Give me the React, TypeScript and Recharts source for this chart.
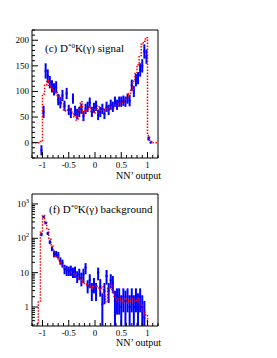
import React from "react";
import { ComposedChart, Line, Scatter, ErrorBar, XAxis, YAxis, ReferenceArea } from "recharts";

const SERIF = '"Liberation Serif", "Times New Roman", serif';

// bin centres of the NN' output histogram
const BIN_CENTERS = [
  -1.18, -1.14, -1.1, -1.06, -1.02, -0.98, -0.94, -0.9, -0.86, -0.82,
  -0.78, -0.74, -0.7, -0.66, -0.62, -0.58, -0.54, -0.5, -0.46, -0.42,
  -0.38, -0.34, -0.3, -0.26, -0.22, -0.18, -0.14, -0.1, -0.06, -0.02,
  0.02, 0.06, 0.1, 0.14, 0.18, 0.22, 0.26, 0.3, 0.34, 0.38,
  0.42, 0.46, 0.5, 0.54, 0.58, 0.62, 0.66, 0.7, 0.74, 0.78,
  0.82, 0.86, 0.9, 0.94, 0.98, 1.02, 1.06, 1.1, 1.14, 1.18,
];
const HALF_BIN = 0.02;
const DATA_START = 4; // data points start at bin -1.02

// (c) signal: MC (red) and data (blue)
const SIG_MC = [
  0, 0, 0, 0, 2, 95, 112, 122, 112, 106,
  100, 98, 92, 88, 76, 64, 62, 66, 60, 56,
  50, 44, 62, 80, 56, 62, 66, 70, 62, 58,
  66, 72, 60, 68, 62, 70, 62, 72, 68, 74,
  72, 78, 76, 80, 84, 88, 96, 104, 120, 135,
  152, 170, 192, 198, 205, 14, 2, 0, 0, 0,
];
const SIG_DATA = [
  -15, 60, 140, 130, 118, 110, 104, 108, 84, 78,
  92, 72, 96, 64, 58, 86, 62, 56, 60, 66,
  52, 66, 70, 78, 60, 68, 72, 54, 60, 66,
  56, 70, 64, 74, 70, 80, 74, 80, 80, 82,
  80, 86, 82, 112, 100, 122, 126, 142, 150, 178,
  168, 8, 0,
];
const SIG_ERR = [
  10, 12, 15, 13, 12, 12, 12, 12, 11, 11,
  11, 10, 11, 10, 10, 10, 10, 10, 10, 10,
  10, 10, 10, 10, 10, 10, 10, 10, 10, 10,
  10, 10, 10, 10, 10, 10, 10, 10, 10, 10,
  10, 10, 11, 11, 11, 12, 12, 13, 13, 14,
  14, 4, 1,
];

// (f) background: MC (red) and data (blue) with lower / upper error bounds
const BKG_MC = [
  0.1, 0.1, 0.1, 1.5, 150, 465, 310, 180, 100, 65,
  42, 30, 25, 20, 17, 14, 12, 11, 10, 9.5,
  8.5, 7.5, 6.5, 6, 5.2, 4.8, 4, 3.8, 3.5, 3.9,
  4.2, 3.6, 3.2, 3.9, 2.2, 1.4, 3.5, 4.3, 2.8, 1.9,
  1.6, 1.8, 1.5, 1.4, 1.7, 1.3, 1.6, 1.9, 1.4, 1.5,
  1.8, 1.3, 1.1, 0.7, 0.6, 0.1, 0.1, 0.1, 0.1, 0.1,
];
const BKG_DATA = [
  130, 420, 280, 140, 78, 50, 36, 35, 32, 22,
  19, 13, 12, 11, 12, 10, 11, 8, 9, 7,
  9, 14, 4, 6, 3, 4.5, 3, 10, 4, 1.2,
  3, 8, 3, 6, 5, 1.5, 2, 2, 1, 2,
  1.5, 2, 1, 2, 1, 2, 1.2, 2, 1, 0.5,
];
const BKG_LO = [
  115, 390, 255, 125, 68, 42, 28, 28, 26, 17,
  14, 9, 8, 8, 8, 7, 7, 5, 6, 4,
  5, 9, 2.5, 3.5, 1.5, 2.5, 1.5, 6, 2, 0.28,
  1.2, 4.5, 1.3, 3.5, 2.5, 0.28, 0.6, 0.6, 0.28, 0.7,
  0.28, 0.7, 0.28, 0.7, 0.28, 0.7, 0.28, 0.7, 0.28, 0.28,
];
const BKG_HI = [
  145, 450, 305, 155, 88, 58, 44, 43, 40, 28,
  24, 17, 16, 15, 16, 14, 15, 11, 13, 10,
  13, 19, 6, 9, 5, 7, 5, 14, 6.5, 2.5,
  5, 12, 5, 9, 8, 3, 3.5, 3.5, 2.2, 3.5,
  3, 3.5, 2.2, 3.5, 2.2, 3.5, 2.5, 3.5, 2.2, 1.5,
];

// axis ticks
const X_TICKS = [
  -1.2, -1.1, -1, -0.9, -0.8, -0.7, -0.6, -0.5, -0.4, -0.3, -0.2, -0.1, 0,
  0.1, 0.2, 0.3, 0.4, 0.5, 0.6, 0.7, 0.8, 0.9, 1, 1.1, 1.2,
];
const X_LABELS: Record<string, string> = { "-1": "-1", "-0.5": "-0.5", "0": "0", "0.5": "0.5", "1": "1" };
const SIG_Y_TICKS = [
  -30, -20, -10, 0, 10, 20, 30, 40, 50, 60, 70, 80, 90, 100, 110, 120,
  130, 140, 150, 160, 170, 180, 190, 200, 210, 220,
];
const SIG_Y_LABELS = [0, 50, 100, 150, 200];
const BKG_Y_TICKS = [
  0.3, 0.4, 0.5, 0.6, 0.7, 0.8, 0.9, 1, 2, 3, 4, 5, 6, 7, 8, 9, 10,
  20, 30, 40, 50, 60, 70, 80, 90, 100, 200, 300, 400, 500, 600, 700, 800, 900, 1000,
];
const BKG_Y_LABELS: Record<string, [string, string]> = {
  "1": ["1", ""], "10": ["10", ""], "100": ["10", "2"], "1000": ["10", "3"],
};

const stepData = (vals: number[]) => {
  const pts = vals.map((v, i) => ({ x: BIN_CENTERS[i] - HALF_BIN, y: v }));
  pts.push({ x: BIN_CENTERS[BIN_CENTERS.length - 1] + HALF_BIN, y: vals[vals.length - 1] });
  return pts;
};

const sigMC = stepData(SIG_MC);
const sigData = SIG_DATA.map((v, i) => ({ x: BIN_CENTERS[DATA_START + i], y: v, e: SIG_ERR[i] }));
const bkgMC = stepData(BKG_MC);
const bkgData = BKG_DATA.map((v, i) => ({
  x: BIN_CENTERS[DATA_START + i], y: v, e: [v - BKG_LO[i], BKG_HI[i] - v],
}));

const XTick = (props: any) => {
  const { x, y, payload } = props;
  const label = X_LABELS[String(payload.value)];
  return (
    <g>
      <line x1={x} x2={x} y1={y} y2={y - (label ? 6 : 3)} stroke="#000" strokeWidth={1} />
      {label && (
        <text x={x} y={y + 10} textAnchor="middle" fontSize={9} fontFamily={SERIF} fill="#000">{label}</text>
      )}
    </g>
  );
};

const SigYTick = (props: any) => {
  const { x, y, payload } = props;
  const major = SIG_Y_LABELS.includes(payload.value);
  return (
    <g>
      <line x1={x} x2={x + (major ? 6 : 3)} y1={y} y2={y} stroke="#000" strokeWidth={1} />
      {major && (
        <text x={x - 3} y={y + 3} textAnchor="end" fontSize={9} fontFamily={SERIF} fill="#000">{payload.value}</text>
      )}
    </g>
  );
};

const BkgYTick = (props: any) => {
  const { x, y, payload } = props;
  const lab = BKG_Y_LABELS[String(payload.value)];
  return (
    <g>
      <line x1={x} x2={x + (lab ? 6 : 3)} y1={y} y2={y} stroke="#000" strokeWidth={1} />
      {lab && (
        <text x={x - 3} y={y + 3} textAnchor="end" fontSize={9} fontFamily={SERIF} fill="#000">
          {lab[0]}
          {lab[1] && <tspan dy={-4} fontSize={6}>{lab[1]}</tspan>}
        </text>
      )}
    </g>
  );
};

const BlueDot = (props: any) => {
  const { cx, cy } = props;
  if (cx == null || cy == null || isNaN(cy)) return null;
  return <rect x={cx - 1} y={cy - 1} width={2} height={2} fill="#0000ff" />;
};

const textStyle = (top: number, left: number, size: number): React.CSSProperties => ({
  position: "absolute", top, left, fontFamily: SERIF, fontSize: size, whiteSpace: "nowrap", lineHeight: 1,
});

export default function App() {
  return (
    <div style={{ position: "absolute", left: 0, top: 0, width: 277, height: 358, background: "#fff" }}>
      <div style={{ position: "absolute", left: 0, top: 0 }}>
        <ComposedChart width={277} height={179} margin={{ top: 30, right: 119, left: 0, bottom: 0 }}>
          <XAxis type="number" dataKey="x" domain={[-1.2, 1.2]} ticks={X_TICKS} interval={0}
            allowDataOverflow height={21} tickSize={0} tickMargin={0} axisLine={false} tick={<XTick />} />
          <YAxis type="number" dataKey="y" domain={[-30, 220]} ticks={SIG_Y_TICKS} interval={0}
            allowDataOverflow width={32} tickSize={0} tickMargin={0} axisLine={false} tick={<SigYTick />} />
          <Scatter data={sigData} dataKey="y" shape={<BlueDot />} isAnimationActive={false}>
            <ErrorBar dataKey="e" direction="y" width={0} stroke="#0000ff" strokeWidth={2} isAnimationActive={false} />
          </Scatter>
          <Line data={sigMC} dataKey="y" type="stepAfter" stroke="#ff0000" strokeWidth={1.5}
            strokeDasharray="1.5 1.5" dot={false} isAnimationActive={false} />
          <ReferenceArea x1={-1.2} x2={1.2} y1={-30} y2={220} fill="none" stroke="#000" strokeWidth={1} ifOverflow="visible" />
        </ComposedChart>
      </div>
      <div style={{ position: "absolute", left: 0, top: 179 }}>
        <ComposedChart width={277} height={179} margin={{ top: 15, right: 119, left: 0, bottom: 0 }}>
          <XAxis type="number" dataKey="x" domain={[-1.2, 1.2]} ticks={X_TICKS} interval={0}
            allowDataOverflow height={32} tickSize={0} tickMargin={0} axisLine={false} tick={<XTick />} />
          <YAxis type="number" dataKey="y" scale="log" domain={[0.28, 1950]} ticks={BKG_Y_TICKS} interval={0}
            allowDataOverflow width={32} tickSize={0} tickMargin={0} axisLine={false} tick={<BkgYTick />} />
          <Scatter data={bkgData} dataKey="y" shape={<BlueDot />} isAnimationActive={false}>
            <ErrorBar dataKey="e" direction="y" width={0} stroke="#0000ff" strokeWidth={2} isAnimationActive={false} />
          </Scatter>
          <Line data={bkgMC} dataKey="y" type="stepAfter" stroke="#ff0000" strokeWidth={1.5}
            strokeDasharray="1.5 1.5" dot={false} isAnimationActive={false} />
          <ReferenceArea x1={-1.2} x2={1.2} y1={0.28} y2={1950} fill="none" stroke="#000" strokeWidth={1} ifOverflow="visible" />
        </ComposedChart>
      </div>
      <div style={textStyle(43, 45, 11)}>
        (c) D<sup style={{ fontSize: 7, verticalAlign: 4, lineHeight: 0 }}>*0</sup>K(γ) signal
      </div>
      <div style={textStyle(204, 49, 11)}>
        (f) D<sup style={{ fontSize: 7, verticalAlign: 4, lineHeight: 0 }}>*0</sup>K(γ) background
      </div>
      <div style={textStyle(171, 116, 10)}>NN’ output</div>
      <div style={textStyle(338, 116, 10)}>NN’ output</div>
    </div>
  );
}
